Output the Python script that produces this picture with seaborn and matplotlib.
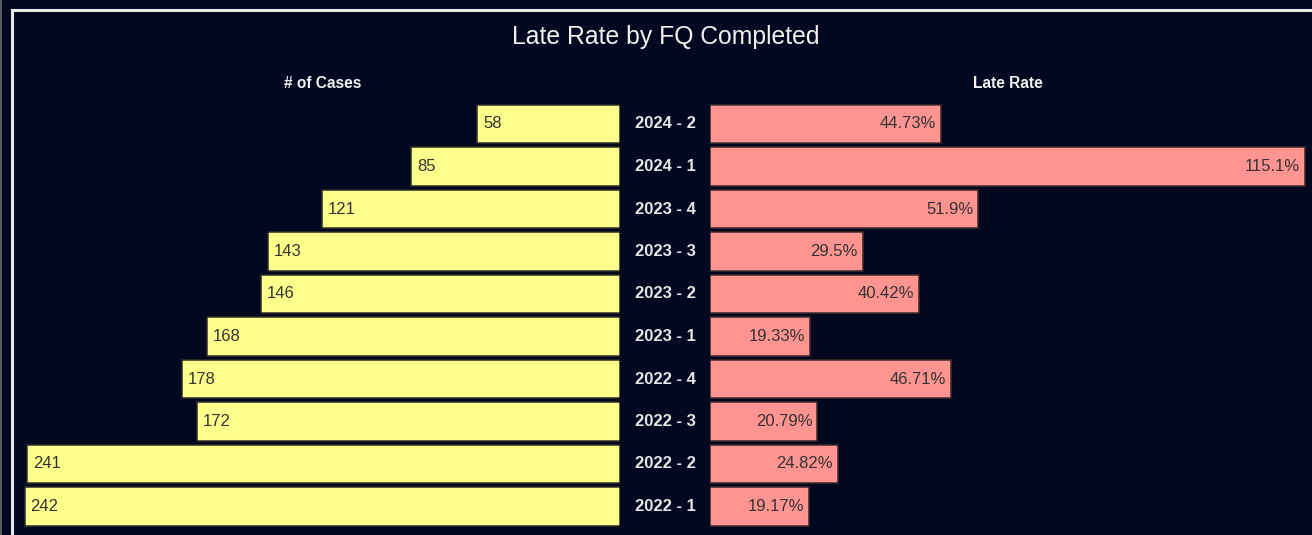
import matplotlib.pyplot as plt
import matplotlib.transforms as mtransforms
from matplotlib.patches import Rectangle
import seaborn as sns
import pandas as pd

quarters = ["2024 - 2", "2024 - 1", "2023 - 4", "2023 - 3", "2023 - 2",
            "2023 - 1", "2022 - 4", "2022 - 3", "2022 - 2", "2022 - 1"]
cases = [58, 85, 121, 143, 146, 168, 178, 172, 241, 242]
late_rate = [44.73, 115.1, 51.9, 29.5, 40.42, 19.33, 46.71, 20.79, 24.82, 19.17]
rate_labels = ["44.73%", "115.1%", "51.9%", "29.5%", "40.42%",
               "19.33%", "46.71%", "20.79%", "24.82%", "19.17%"]

df = pd.DataFrame({"quarter": quarters, "cases": cases, "late_rate": late_rate})

bg = "#020820"
yellow = "#FFFF8C"
pink = "#FF9491"

sns.set_theme(style="white")
plt.rcParams["font.family"] = ["Liberation Sans", "DejaVu Sans"]

W, H = 1312, 535
fig = plt.figure(figsize=(W / 100, H / 100), dpi=100, facecolor=bg)

# white frame round the visual
fig.patches.append(Rectangle((12 / W, -0.1), 1.2, 1 - 10 / H + 0.1, transform=fig.transFigure,
                             fill=False, edgecolor="#e8e8e8", linewidth=2.2))
fig.patches.append(Rectangle((1 / W, -0.1), 0.0, 1.2, transform=fig.transFigure,
                             fill=False, edgecolor="#555a66", linewidth=1.2))

bottom = 1 - 527.75 / H
height = 425 / H
ax1 = fig.add_axes([22 / W, bottom, 598 / W, height])
ax2 = fig.add_axes([710 / W, bottom, 598 / W, height])

sns.barplot(data=df, x="cases", y="quarter", orient="h", color=yellow, width=0.9,
            edgecolor="#2e2e26", linewidth=1.1, saturation=1, ax=ax1)
sns.barplot(data=df, x="late_rate", y="quarter", orient="h", color=pink, width=0.9,
            edgecolor="#3e2a2a", linewidth=1.1, saturation=1, ax=ax2)

ax1.set_xlim(598 / 2.46, 0)
ax2.set_xlim(0, 598 / 5.17)

for ax in (ax1, ax2):
    ax.set_facecolor(bg)
    ax.patch.set_alpha(0)
    ax.set_xlabel("")
    ax.set_ylabel("")
    ax.set_xticks([])
    ax.set_yticks([])
    ax.set_ylim(len(quarters) - 0.5, -0.5)
    for s in ax.spines.values():
        s.set_visible(False)

for i, v in enumerate(cases):
    ax1.text(v - 2.4, i, str(v), ha="left", va="center", color="#333333", fontsize=12)
for i, (v, lab) in enumerate(zip(late_rate, rate_labels)):
    ax2.text(v - 1.0, i, lab, ha="right", va="center", color="#333333", fontsize=12)

trans = mtransforms.blended_transform_factory(ax2.transAxes, ax2.transData)
for i, q in enumerate(quarters):
    ax2.text(-45 / 598, i, q, transform=trans, ha="center", va="center",
             color="#e6e6e6", fontsize=12, fontweight="bold")

fig.text(666 / W, 1 - 37 / H, "Late Rate by FQ Completed", ha="center", va="center",
         color="#f2f2f2", fontsize=17.8)
fig.text(323 / W, 1 - 84 / H, "# of Cases", ha="center", va="center",
         color="#f2f2f2", fontsize=11.2, fontweight="bold")
fig.text(1008 / W, 1 - 84 / H, "Late Rate", ha="center", va="center",
         color="#f2f2f2", fontsize=11.2, fontweight="bold")

fig.savefig("out.png", dpi=100, facecolor=bg)
